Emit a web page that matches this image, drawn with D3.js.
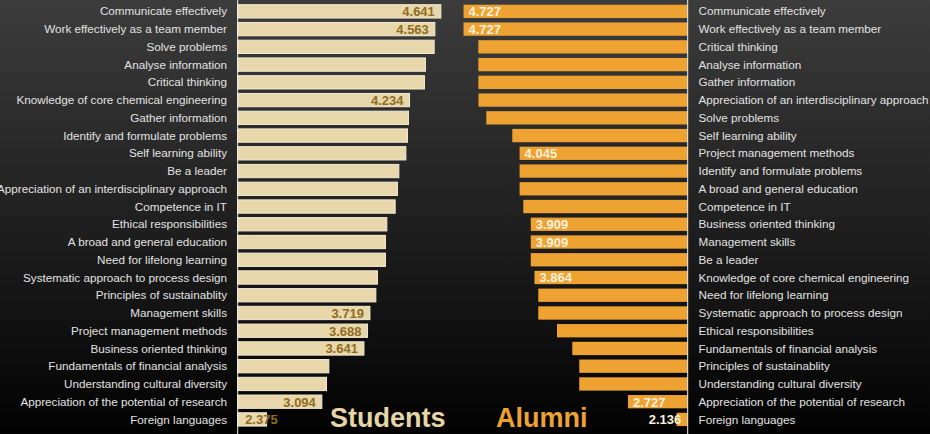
<!DOCTYPE html>
<html>
<head>
<meta charset="utf-8">
<script src="https://cdn.jsdelivr.net/npm/d3@7"></script>
<style>
  html, body { margin: 0; padding: 0; background: #000; }
  svg { display: block; font-family: "Liberation Sans", Arial, Helvetica, sans-serif; }
</style>
</head>
<body>
<div id="chart"></div>
<script>
// students (left, ranked)
var studentSkills = [
    "Communicate effectively", "Work effectively as a team member", "Solve problems",
    "Analyse information", "Critical thinking", "Knowledge of core chemical engineering",
    "Gather information", "Identify and formulate problems", "Self learning ability",
    "Be a leader", "Appreciation of an interdisciplinary approach", "Competence in IT",
    "Ethical responsibilities", "A broad and general education", "Need for lifelong learning",
    "Systematic approach to process design", "Principles of sustainablity", "Management skills",
    "Project management methods", "Business oriented thinking", "Fundamentals of financial analysis",
    "Understanding cultural diversity", "Appreciation of the potential of research", "Foreign languages"
];
var studentValues = [
    4.641, 4.563, 4.554, 4.441, 4.428, 4.234, 4.22, 4.207, 4.186, 4.095, 4.077, 4.047,
    3.939, 3.921, 3.921, 3.817, 3.796, 3.719, 3.688, 3.641, 3.185, 3.154, 3.094, 2.375
];
var studentShown = [true, true, false, false, false, true, false, false, false, false, false, false,
    false, false, false, false, false, true, true, true, false, false, true, true];

// alumni (right, ranked)
var alumniSkills = [
    "Communicate effectively", "Work effectively as a team member", "Critical thinking",
    "Analyse information", "Gather information", "Appreciation of an interdisciplinary approach",
    "Solve problems", "Self learning ability", "Project management methods",
    "Identify and formulate problems", "A broad and general education", "Competence in IT",
    "Business oriented thinking", "Management skills", "Be a leader",
    "Knowledge of core chemical engineering", "Need for lifelong learning", "Systematic approach to process design",
    "Ethical responsibilities", "Fundamentals of financial analysis", "Principles of sustainablity",
    "Understanding cultural diversity", "Appreciation of the potential of research", "Foreign languages"
];
var alumniValues = [
    4.727, 4.727, 4.547, 4.547, 4.547, 4.545, 4.45, 4.134, 4.045, 4.045, 4.045, 4.0,
    3.909, 3.909, 3.909, 3.864, 3.818, 3.818, 3.59, 3.404, 3.319, 3.319, 2.727, 2.136
];
var alumniShown = [true, true, false, false, false, false, false, false, true, false, false, false,
    true, true, false, true, false, false, false, false, false, false, true, true];

var width = 930, height = 434;

var svg = d3.select("#chart").append("svg")
    .attr("width", width)
    .attr("height", height);

var defs = svg.append("defs");
var grad = defs.append("linearGradient")
    .attr("id", "bg")
    .attr("x1", 0).attr("y1", 0).attr("x2", 0).attr("y2", 1);
grad.append("stop").attr("offset", "0%").attr("stop-color", "#3c3c3c");
grad.append("stop").attr("offset", "55%").attr("stop-color", "#1d1d1d");
grad.append("stop").attr("offset", "100%").attr("stop-color", "#020202");

svg.append("rect")
    .attr("width", width)
    .attr("height", height)
    .attr("fill", "url(#bg)");

var y = d3.scaleBand()
    .domain(d3.range(24))
    .range([2.5, 428.3])
    .paddingInner(0.25)
    .paddingOuter(0.125);

var xs = d3.scaleLinear().domain([2, 5]).range([237.7, 237.7 + 3 * 76.92]);
var xa = d3.scaleLinear().domain([2, 5]).range([687.7, 687.7 - 3 * 82.2]);

// students
var left = svg.append("g");
left.selectAll("text.skill")
    .data(studentSkills)
    .enter().append("text")
    .attr("class", "skill")
    .attr("x", 227)
    .attr("y", function(d, i) { return y(i) + y.bandwidth() / 2; })
    .attr("dy", "0.35em")
    .attr("text-anchor", "end")
    .attr("font-size", 11.7)
    .attr("fill", "#e2e2e2")
    .text(function(d) { return d; });

left.selectAll("rect")
    .data(studentValues)
    .enter().append("rect")
    .attr("x", xs(2))
    .attr("y", function(d, i) { return y(i); })
    .attr("width", function(d) { return xs(d) - xs(2); })
    .attr("height", y.bandwidth())
    .attr("fill", "#e8d7aa")
    .attr("stroke", "#f4ecd4")
    .attr("stroke-width", 1);

left.selectAll("text.val")
    .data(studentValues)
    .enter().append("text")
    .attr("class", "val")
    .style("display", function(d, i) { return studentShown[i] ? null : "none"; })
    .attr("x", function(d) { return Math.max(xs(d) - 6, xs(2) + 40); })
    .attr("y", function(d, i) { return y(i) + y.bandwidth() / 2; })
    .attr("dy", "0.38em")
    .attr("text-anchor", "end")
    .attr("font-size", 13)
    .attr("font-weight", "bold")
    .attr("fill", "#8f6c22")
    .text(function(d) { return d3.format(".3f")(d); });

// alumni
var right = svg.append("g");
right.selectAll("text.skill")
    .data(alumniSkills)
    .enter().append("text")
    .attr("class", "skill")
    .attr("x", 698.5)
    .attr("y", function(d, i) { return y(i) + y.bandwidth() / 2; })
    .attr("dy", "0.35em")
    .attr("font-size", 11.7)
    .attr("fill", "#e2e2e2")
    .text(function(d) { return d; });

right.selectAll("rect")
    .data(alumniValues)
    .enter().append("rect")
    .attr("x", function(d) { return xa(d); })
    .attr("y", function(d, i) { return y(i); })
    .attr("width", function(d) { return xa(2) - xa(d); })
    .attr("height", y.bandwidth())
    .attr("fill", "#eea232");

right.selectAll("text.val")
    .data(alumniValues)
    .enter().append("text")
    .attr("class", "val")
    .style("display", function(d, i) { return alumniShown[i] ? null : "none"; })
    .attr("x", function(d) { return Math.min(xa(d) + 5, xa(2) - 39); })
    .attr("y", function(d, i) { return y(i) + y.bandwidth() / 2; })
    .attr("dy", "0.38em")
    .attr("font-size", 13)
    .attr("font-weight", "bold")
    .attr("fill", "#fbf1dc")
    .text(function(d) { return d3.format(".3f")(d); });

// axis lines
svg.append("line")
    .attr("x1", xs(2)).attr("x2", xs(2))
    .attr("y1", 0).attr("y2", height)
    .attr("stroke", "#f0f0f0").attr("stroke-width", 1);
svg.append("line")
    .attr("x1", xa(2)).attr("x2", xa(2))
    .attr("y1", 0).attr("y2", height)
    .attr("stroke", "#f0f0f0").attr("stroke-width", 1);

// titles
svg.append("text")
    .attr("x", 330)
    .attr("y", 427)
    .attr("font-size", 27)
    .attr("font-weight", "bold")
    .attr("fill", "#e6d6a6")
    .text("Students");
svg.append("text")
    .attr("x", 496)
    .attr("y", 427)
    .attr("font-size", 27)
    .attr("font-weight", "bold")
    .attr("fill", "#eea232")
    .text("Alumni");
</script>
</body>
</html>
